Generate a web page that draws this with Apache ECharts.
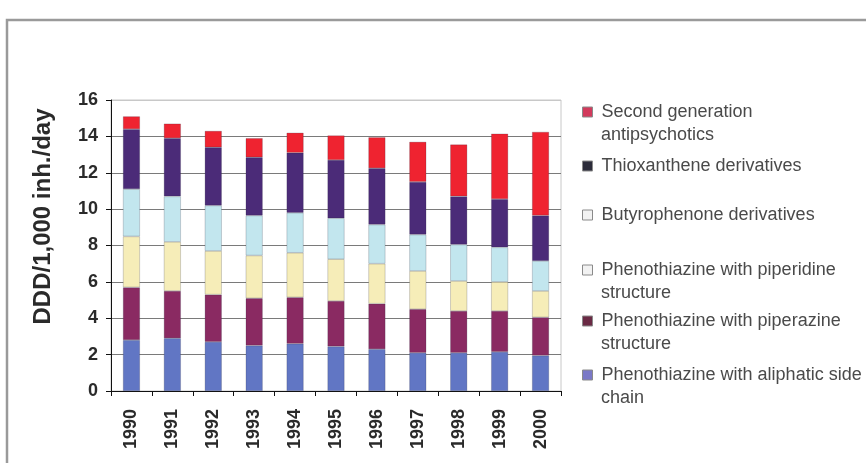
<!DOCTYPE html>
<html>
<head>
<meta charset="utf-8">
<script src="https://cdn.jsdelivr.net/npm/echarts@6/dist/echarts.min.js"></script>
<style>
  html, body { margin: 0; padding: 0; background: #fff; }
  #chart { width: 866px; height: 463px; }
</style>
</head>
<body>
<div id="chart"></div>
<script>
// Antipsychotic use, DDD per 1,000 inhabitants per day, by drug group
const years = ['1990', '1991', '1992', '1993', '1994', '1995', '1996', '1997', '1998', '1999', '2000'];

const aliphatic     = [2.8, 2.9, 2.7, 2.5, 2.6, 2.45, 2.3, 2.1, 2.1, 2.15, 1.95];
const piperazine    = [2.9, 2.6, 2.6, 2.6, 2.55, 2.5, 2.5, 2.4, 2.3, 2.25, 2.1];
const piperidine    = [2.8, 2.7, 2.4, 2.35, 2.45, 2.3, 2.2, 2.1, 1.65, 1.6, 1.45];
const butyrophenone = [2.6, 2.5, 2.5, 2.2, 2.2, 2.25, 2.15, 2.0, 2.0, 1.9, 1.65];
const thioxanthene  = [3.3, 3.2, 3.2, 3.2, 3.3, 3.2, 3.1, 2.9, 2.65, 2.65, 2.5];
const secondGen     = [0.7, 0.8, 0.9, 1.05, 1.1, 1.35, 1.7, 2.2, 2.85, 3.6, 4.6];

const yTicks = [0, 2, 4, 6, 8, 10, 12, 14, 16];

// legend labels, wrapped the way they are shown beside the plot
const seriesNames = [
  'Phenothiazine with aliphatic side\nchain',
  'Phenothiazine with piperazine\nstructure',
  'Phenothiazine with piperidine\nstructure',
  'Butyrophenone derivatives',
  'Thioxanthene derivatives',
  'Second generation\nantipsychotics'
];
const seriesData = [aliphatic, piperazine, piperidine, butyrophenone, thioxanthene, secondGen];
const seriesColors = ['#6176c4', '#8a2a62', '#f6edb8', '#c2e6ee', '#4b2b78', '#ef2330'];
const legendColors = ['#7a78c6', '#6a2a44', '#f2f2f2', '#f2f2f2', '#2c2c3a', '#d23a5c'];
// first-line centre of each legend entry (px from top)
const legendCentres = [375, 321, 270, 215, 166, 112];

const FONT = '"Liberation Sans", Arial, sans-serif';
const LEGEND_LEFT = 582;
const LEGEND_TEXT_X = 601;
const LEGEND_FONT = 18;
const LINE_H = 24;

const chart = echarts.init(document.getElementById('chart'), null, { renderer: 'canvas' });

// one legend block per entry so each sits at its own height; marker beside the first line
const legends = seriesNames.map((name, i) => ({
  data: [{ name: name, itemStyle: { color: legendColors[i], borderColor: '#8a8a8a', borderWidth: 1 } }],
  formatter: (n) => n.split('\n')[0],
  left: LEGEND_LEFT,
  top: legendCentres[i] - LINE_H / 2,
  padding: 0,
  orient: 'vertical',
  icon: 'rect',
  itemWidth: 10,
  itemHeight: 10,
  selectedMode: false,
  textStyle: {
    fontFamily: FONT,
    fontSize: LEGEND_FONT,
    color: '#4a4a4a',
    lineHeight: LINE_H,
    padding: [0, 0, 0, 4]
  }
}));

// continuation lines of the wrapped legend labels
const legendWraps = [];
seriesNames.forEach((name, i) => {
  const parts = name.split('\n');
  if (parts.length > 1) {
    legendWraps.push({
      type: 'text',
      left: LEGEND_TEXT_X,
      top: legendCentres[i] + LINE_H - LEGEND_FONT / 2 - 1,
      silent: true,
      style: {
        text: parts.slice(1).join('\n'),
        fontFamily: FONT,
        fontSize: LEGEND_FONT,
        fill: '#4a4a4a'
      }
    });
  }
});

chart.setOption({
  animation: false,
  backgroundColor: '#fff',
  graphic: [{
    type: 'rect',
    shape: { x: 7, y: 20, width: 900, height: 500 },
    style: { fill: 'none', stroke: '#9a9a9a', lineWidth: 2.5 },
    silent: true,
    z: -10
  }].concat(legendWraps),
  legend: legends,
  grid: {
    left: 111,
    right: 305,
    top: 100,
    bottom: 72,
    show: true,
    borderColor: '#c8c8c8',
    borderWidth: 1,
    backgroundColor: '#fff'
  },
  xAxis: {
    type: 'category',
    data: years,
    boundaryGap: true,
    axisLine: { lineStyle: { color: '#111', width: 1 } },
    axisTick: { show: true, inside: false, length: 5, alignWithLabel: false, lineStyle: { color: '#111' } },
    axisLabel: {
      rotate: 90,
      margin: 18,
      fontFamily: FONT,
      fontSize: 18,
      fontWeight: 'bold',
      color: '#2a2a2a'
    }
  },
  yAxis: {
    type: 'value',
    min: yTicks[0],
    max: yTicks[yTicks.length - 1],
    interval: 2,
    name: 'DDD/1,000 inh./day',
    nameLocation: 'middle',
    nameGap: 56,
    nameRotate: 90,
    nameTextStyle: {
      fontFamily: FONT,
      fontSize: 24,
      fontWeight: 'bold',
      color: '#2a2a2a',
      padding: [0, 0, 0, 58]
    },
    axisLine: { show: true, lineStyle: { color: '#111', width: 1 } },
    axisTick: { show: true, inside: false, length: 5, lineStyle: { color: '#111' } },
    axisLabel: {
      margin: 13,
      fontFamily: FONT,
      fontSize: 18,
      fontWeight: 'bold',
      color: '#2a2a2a'
    },
    splitLine: {
      show: true,
      lineStyle: {
        color: ['#7a7a7a', '#7a7a7a', '#7a7a7a', '#7a7a7a', '#7a7a7a', '#7a7a7a', '#7a7a7a', '#7a7a7a', '#c8c8c8'],
        width: 1
      }
    }
  },
  series: seriesNames.map((name, i) => ({
    name: name,
    type: 'bar',
    stack: 'total',
    barWidth: 17,
    data: seriesData[i],
    itemStyle: {
      color: seriesColors[i],
      borderColor: 'rgba(40,40,60,0.35)',
      borderWidth: 0.6
    }
  }))
});
</script>
</body>
</html>
